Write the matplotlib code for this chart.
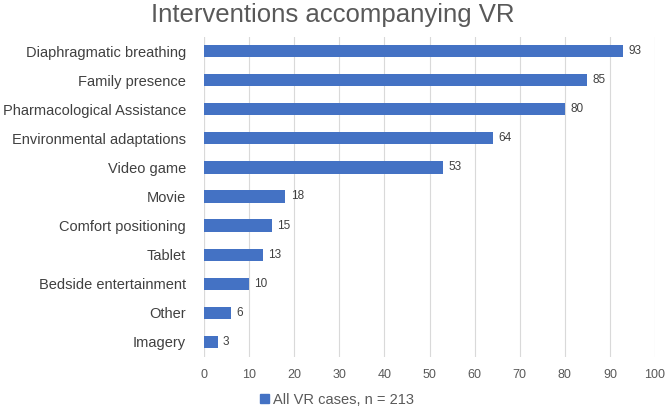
import matplotlib
matplotlib.use("Agg")
import matplotlib.pyplot as plt
from matplotlib.patches import Patch

categories = ["Diaphragmatic breathing", "Family presence", "Pharmacological Assistance",
              "Environmental adaptations", "Video game", "Movie", "Comfort positioning",
              "Tablet", "Bedside entertainment", "Other", "Imagery"]
values = [93, 85, 80, 64, 53, 18, 15, 13, 10, 6, 3]
series_label = "All VR cases, n = 213"
title = "Interventions accompanying VR"

plt.rcParams['font.family'] = ['Liberation Sans', 'DejaVu Sans']
bar_color = "#4472C4"
text_color = "#595959"

fig = plt.figure(figsize=(6.66, 4.07), dpi=100)
ax = fig.add_axes([204/666, 1-356.5/407, (655-204)/666, (356.5-36.5)/407])

y = list(range(len(categories)))
ax.barh(y, values, height=0.42, color=bar_color, zorder=3)
ax.set_ylim(len(categories)-0.5, -0.5)
ax.set_xlim(0, 100)
ax.set_xticks(range(0, 101, 10))
ax.set_yticks(y)
ax.set_yticklabels(categories, fontsize=10.5, color="#404040")
ax.tick_params(axis='x', labelsize=9, colors=text_color, length=0, pad=9)
ax.tick_params(axis='y', length=0, pad=13)
ax.grid(axis='x', color="#D9D9D9", linewidth=0.8, zorder=0)
for s in ax.spines.values():
    s.set_visible(False)
ax.axvline(0, color="#D9D9D9", linewidth=0.8, zorder=1)

for yi, v in zip(y, values):
    ax.text(v + 1.2, yi, str(v), va='center', ha='left', fontsize=8.5, color="#404040")

fig.text(0.5, 1-15/407, title, ha='center', va='center', fontsize=18.5, color=text_color)

fig.legend(handles=[Patch(color=bar_color, label=series_label)], loc='center',
           bbox_to_anchor=(337/666, 1-400/407), frameon=False, fontsize=10.5,
           handlelength=0.6, handleheight=0.6, handletextpad=0.3, labelcolor=text_color)

fig.savefig("out.png", dpi=100)
